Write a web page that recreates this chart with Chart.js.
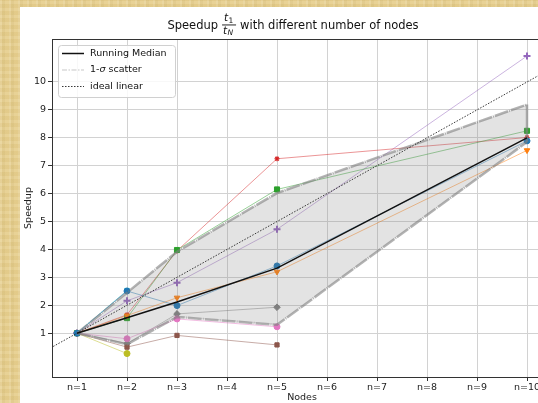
<!DOCTYPE html>
<html>
<head>
<meta charset="utf-8">
<script src="https://cdn.jsdelivr.net/npm/chart.js@4.4.0/dist/chart.umd.min.js"></script>
<style>
  html, body { margin: 0; padding: 0; width: 538px; height: 403px; overflow: hidden; }
  body {
    background-color: #e7cf8f;
    background-image:
      repeating-linear-gradient(90deg, rgba(255,255,255,0.10) 0 2px, rgba(120,90,20,0.05) 2px 5px, rgba(255,255,255,0) 5px 9px),
      repeating-linear-gradient(0deg, rgba(255,255,255,0.06) 0 3px, rgba(120,90,20,0.04) 3px 7px);
  }
  #paper { position: absolute; left: 20px; top: 7px; right: 0; bottom: 0; background: #fff; }
  #c { position: absolute; left: 0; top: 0; }
</style>
</head>
<body>
<div id="paper"></div>
<canvas id="c" width="560" height="403"></canvas>
<script>
// node counts where runs were measured
const nodes = [1, 2, 3, 5, 10];
const xTicks = [1, 2, 3, 4, 5, 6, 7, 8, 9, 10];
const yTicks = [1, 2, 3, 4, 5, 6, 7, 8, 9, 10];

// individual runs (speedup at each node count)
const runBlue   = [1, 2.51, 1.99, 3.41, 7.89];
const runOrange = [1, 1.63, 2.27, 3.20, 7.55];
const runGreen  = [1, 1.54, 3.98, 6.15, 8.25];
const runRed    = [1, 1.66, 3.95, 7.25, 8.01];
const runPurple = [1, 2.16, 2.81, 4.72, 10.93];
const runBrown  = [1, 0.50, 0.92, 0.58];
const runPink   = [1, 0.80, 1.51, 1.23];
const runGray   = [1, 0.63, 1.69, 1.93];
const runOlive  = [1, 0.27];
const runCyan   = [1, 2.53];

// summary
const median     = [1, 1.55, 2.12, 3.33, 8.00];
const sigmaUpper = [1, 2.45, 3.92, 6.02, 9.19];
const sigmaLower = [1, 0.60, 1.58, 1.30, 7.85];
const idealX = [0, 11];

const legendLabels = ['Running Median', '1-σ scatter', 'ideal linear'];
const titleLeft = 'Speedup';
const titleRight = 'with different number of nodes';

const FONT = '"DejaVu Sans", sans-serif';
const pts = vals => vals.map((v, i) => ({ x: nodes[i], y: v }));

const runs = [
  { data: runBlue,   color: '31,119,180',  marker: 'circle', size: 3 },
  { data: runOrange, color: '255,127,14',  marker: 'triangle', rot: 180, size: 3.2 },
  { data: runGreen,  color: '44,160,44',   marker: 'rect', size: 3.6 },
  { data: runRed,    color: '214,39,40',   marker: 'star', size: 2.6, bw: 1.2 },
  { data: runPurple, color: '148,103,189', marker: 'cross', size: 3.5, bw: 2 },
  { data: runBrown,  color: '140,86,75',   marker: 'rect', size: 3 },
  { data: runPink,   color: '227,119,194', marker: 'circle', size: 3 },
  { data: runGray,   color: '127,127,127', marker: 'rectRot', size: 3.3 },
  { data: runOlive,  color: '188,189,34',  marker: 'circle', size: 3 },
  { data: runCyan,   color: '23,190,207',  marker: 'rect', size: 3 }
];

const sigmaStyle = {
  borderColor: 'rgba(128,128,128,0.6)',
  borderWidth: 2.5,
  borderDash: [14, 1, 1, 1],
  pointRadius: 0
};

const datasets = [
  { label: 'ideal', data: idealX.map(v => ({ x: v, y: v })), borderColor: '#222', borderWidth: 0.9,
    borderDash: [1.5, 1.5], pointRadius: 0, order: 0 },
  { label: 'median', data: pts(median), borderColor: '#111', borderWidth: 1.5, pointRadius: 0, order: 1 },
  { label: 'edge', data: [{ x: nodes[nodes.length - 1], y: sigmaUpper[sigmaUpper.length - 1] },
                          { x: nodes[nodes.length - 1], y: sigmaLower[sigmaLower.length - 1] }],
    ...sigmaStyle, borderDash: [], order: 2 },
  { label: 'upper', data: pts(sigmaUpper), ...sigmaStyle, fill: '+1',
    backgroundColor: 'rgba(128,128,128,0.22)', order: 3 },
  { label: 'lower', data: pts(sigmaLower), ...sigmaStyle, fill: false, order: 3 }
];

runs.forEach((r, i) => {
  datasets.push({
    label: 'run' + i,
    data: pts(r.data),
    borderColor: 'rgba(' + r.color + ',0.55)',
    borderWidth: 0.9,
    pointStyle: r.marker,
    pointRotation: r.rot || 0,
    pointRadius: r.size,
    pointBackgroundColor: 'rgb(' + r.color + ')',
    pointBorderColor: 'rgb(' + r.color + ')',
    pointBorderWidth: r.bw || 1,
    fill: false,
    order: 10 + i
  });
});

const frame = {
  id: 'frame',
  afterDatasetsDraw(chart) {
    const { ctx, chartArea: a } = chart;
    ctx.save();
    ctx.strokeStyle = '#333';
    ctx.lineWidth = 1;
    ctx.strokeRect(Math.round(a.left) + 0.5, Math.round(a.top) + 0.5,
      Math.round(a.right - a.left), Math.round(a.bottom - a.top));
    ctx.restore();
  }
};

const titleDraw = {
  id: 'titleDraw',
  afterDraw(chart) {
    const ctx = chart.ctx;
    ctx.save();
    ctx.fillStyle = '#111';
    ctx.textBaseline = 'alphabetic';
    ctx.font = '11.5px ' + FONT;
    const w1 = ctx.measureText(titleLeft).width;
    const w2 = ctx.measureText(titleRight).width;
    const wf = 14, gap = 4;
    const total = w1 + gap + wf + gap + w2;
    let x = 293 - total / 2;
    const base = 28.5;
    ctx.fillText(titleLeft, x, base);
    x += w1 + gap;
    // fraction t_1 / t_N
    ctx.font = 'italic 10.5px ' + FONT;
    ctx.fillText('t', x + 2, 21);
    ctx.font = '7.5px ' + FONT;
    ctx.fillText('1', x + 6.5, 22.5);
    ctx.fillRect(x, 24.5, wf, 0.9);
    ctx.font = 'italic 10.5px ' + FONT;
    ctx.fillText('t', x + 1, 33.5);
    ctx.font = 'italic 7.5px ' + FONT;
    ctx.fillText('N', x + 5.5, 35);
    x += wf + gap;
    ctx.font = '11.5px ' + FONT;
    ctx.fillText(titleRight, x, base);
    ctx.restore();
  }
};

const legendDraw = {
  id: 'legendDraw',
  afterDraw(chart) {
    const ctx = chart.ctx;
    ctx.save();
    ctx.beginPath();
    ctx.roundRect(58.5, 45.5, 117, 52, 3);
    ctx.fillStyle = 'rgba(255,255,255,0.85)';
    ctx.fill();
    ctx.strokeStyle = '#d0d0d0';
    ctx.lineWidth = 1;
    ctx.stroke();
    const styles = [
      { color: '#111', width: 1.5, dash: [] },
      { color: 'rgba(128,128,128,0.45)', width: 1.2, dash: [5, 1.5, 1.5, 1.5] },
      { color: '#222', width: 0.9, dash: [1.5, 1.5] }
    ];
    ctx.textBaseline = 'middle';
    ctx.fillStyle = '#111';
    legendLabels.forEach((lab, i) => {
      const y = 53.5 + i * 16.5;
      const s = styles[i];
      ctx.beginPath();
      ctx.setLineDash(s.dash);
      ctx.strokeStyle = s.color;
      ctx.lineWidth = s.width;
      ctx.moveTo(62, y);
      ctx.lineTo(84, y);
      ctx.stroke();
      ctx.setLineDash([]);
      const parts = lab.split('σ');
      let x = 90;
      ctx.font = '9.5px ' + FONT;
      ctx.fillText(parts[0], x, y);
      if (parts.length > 1) {
        x += ctx.measureText(parts[0]).width;
        ctx.font = 'italic 9.5px ' + FONT;
        ctx.fillText('σ', x, y);
        x += ctx.measureText('σ').width;
        ctx.font = '9.5px ' + FONT;
        ctx.fillText(parts[1], x, y);
      }
    });
    ctx.restore();
  }
};

new Chart(document.getElementById('c').getContext('2d'), {
  type: 'line',
  data: { datasets },
  options: {
    responsive: false,
    animation: false,
    layout: { padding: { left: 23, top: 39, right: 8, bottom: 0 } },
    plugins: { legend: { display: false }, tooltip: { enabled: false } },
    elements: { line: { tension: 0 } },
    scales: {
      x: {
        type: 'linear', min: 0.5, max: 10.5,
        afterBuildTicks: s => { s.ticks = xTicks.map(v => ({ value: v })); },
        afterFit: s => { s.height = 26; },
        ticks: { callback: v => 'n=' + v, color: '#222', font: { family: FONT, size: 9.5 },
                 padding: 1, maxRotation: 0, autoSkip: false },
        grid: { color: '#d2d2d2', lineWidth: 1, tickLength: 4, tickColor: '#333' },
        border: { display: false },
        title: { display: true, text: 'Nodes', color: '#222', font: { family: FONT, size: 9.5 },
                 padding: { top: 0, bottom: 0 } }
      },
      y: {
        type: 'linear', min: -0.57, max: 11.54,
        afterBuildTicks: s => { s.ticks = yTicks.map(v => ({ value: v })); },
        afterFit: s => { s.width = 29; },
        ticks: { color: '#222', font: { family: FONT, size: 9.5 }, padding: 2 },
        grid: { color: '#d2d2d2', lineWidth: 1, tickLength: 4, tickColor: '#333' },
        border: { display: false },
        title: { display: true, text: 'Speedup', color: '#222', font: { family: FONT, size: 9.5 },
                 padding: { top: 0, bottom: 0 } }
      }
    }
  },
  plugins: [frame, titleDraw, legendDraw]
});
</script>
</body>
</html>
